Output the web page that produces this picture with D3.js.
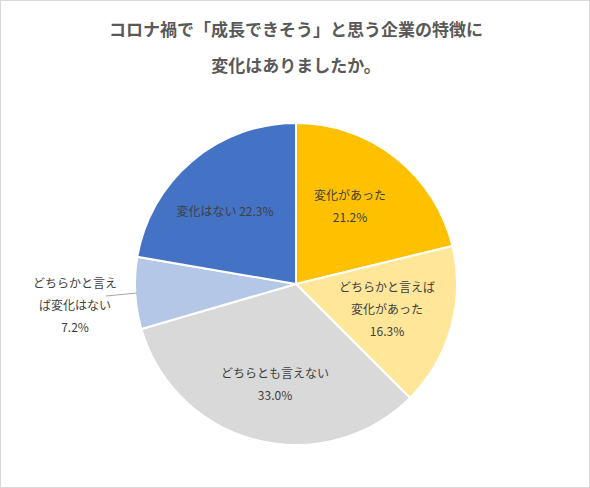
<!DOCTYPE html>
<html><head><meta charset="utf-8">
<script src="https://cdn.jsdelivr.net/npm/d3@7"></script>
<style>body{margin:0;background:#fff;font-family:"Noto Sans CJK JP",sans-serif;}</style>
</head><body><svg id="c" width="590" height="488"></svg>
<script>
const categories = ["変化があった","どちらかと言えば変化があった","どちらとも言えない","どちらかと言えば変化はない","変化はない"];
const values = [21.2, 16.3, 33.0, 7.2, 22.3];
const colors = ["#FFC000","#FFE699","#D9D9D9","#B4C7E7","#4472C4"];
const labelLines = [["変化があった","21.2%"],["どちらかと言えば","変化があった","16.3%"],["どちらとも言えない","33.0%"],["どちらかと言え","ば変化はない","7.2%"],["変化はない 22.3%"]];
const labelPos = [[350,200],[387,292],[275,378],[75,288],[225,216]];
const svg = d3.select("#c");
svg.append("rect").attr("x",0.5).attr("y",0.5).attr("width",589).attr("height",487).attr("fill","#fff").attr("stroke","#d9d9d9");
const title = ["コロナ禍で「成長できそう」と思う企業の特徴に","変化はありましたか。"];
svg.selectAll(".t").data(title).join("text").attr("x",296).attr("y",(d,i)=>36+i*36)
 .attr("text-anchor","middle").attr("font-size",17).attr("font-weight","bold").attr("fill","#595959").text(d=>d);
const cx=296, cy=284, r=161;
const pie=d3.pie().sort(null).value(d=>d);
const arc=d3.arc().innerRadius(0).outerRadius(r);
const g=svg.append("g").attr("transform",`translate(${cx},${cy})`);
g.selectAll("path").data(pie(values)).join("path").attr("d",arc).attr("fill",(d,i)=>colors[i]).attr("stroke","#fff").attr("stroke-width",2);
svg.append("line").attr("x1",106).attr("y1",296).attr("x2",137).attr("y2",293).attr("stroke","#a6a6a6");
labelLines.forEach((lines,i)=>{
  const t=svg.append("text").attr("text-anchor","middle").attr("font-size",12).attr("fill","#404040");
  lines.forEach((s,j)=>t.append("tspan").attr("x",labelPos[i][0]).attr("y",labelPos[i][1]+j*22).text(s));
});
</script></body></html>
